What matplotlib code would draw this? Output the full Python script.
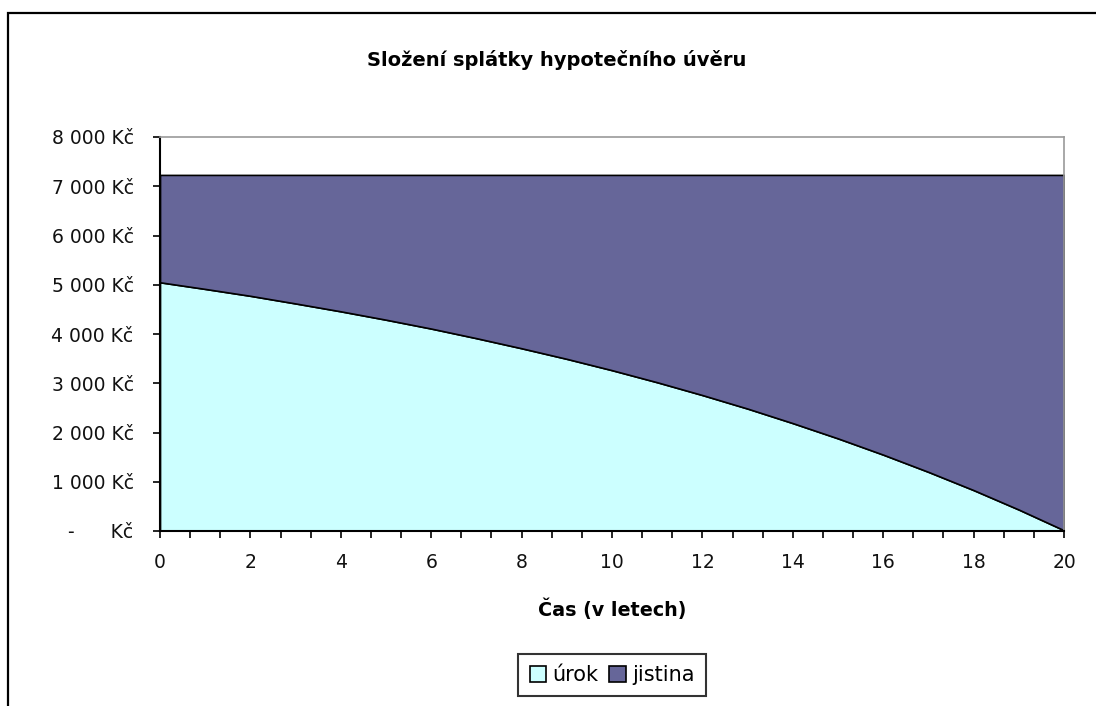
import matplotlib.pyplot as plt
import numpy as np
from matplotlib.patches import Rectangle
from matplotlib.ticker import FuncFormatter, MultipleLocator

plt.rcParams['font.family'] = ['DejaVu Sans']

# roky splaceni a slozeni mesicni splatky (Kc)
roky = [0, 1, 2, 3, 4, 5, 6, 7, 8, 9, 10,
        11, 12, 13, 14, 15, 16, 17, 18, 19, 20]
urok = [5050, 4915, 4775, 4620, 4460, 4290, 4110, 3915, 3710, 3495, 3265,
        3020, 2760, 2485, 2190, 1880, 1550, 1200, 830, 435, 15]
jistina = [2180, 2315, 2455, 2610, 2770, 2940, 3120, 3315, 3520, 3735, 3965,
           4210, 4470, 4745, 5040, 5350, 5680, 6030, 6400, 6795, 7215]
serie = ['úrok', 'jistina']
barvy = ['#CCFFFF', '#666699']

fig = plt.figure(figsize=(10.96, 7.06), dpi=100)
ax = fig.add_axes([160 / 1096, 1 - 531 / 706, 904 / 1096, 394 / 706])

ax.stackplot(roky, urok, jistina, colors=barvy, labels=serie,
             edgecolor='black', linewidth=1.2)

ax.set_xlim(0, 20)
ax.set_ylim(0, 8000)
ax.xaxis.set_major_locator(MultipleLocator(2))
ax.xaxis.set_minor_locator(MultipleLocator(2 / 3))
ax.yaxis.set_major_locator(MultipleLocator(1000))


def kc(v, pos):
    if v == 0:
        return '-      Kč'
    return '{:,.0f} Kč'.format(v).replace(',', ' ')


ax.yaxis.set_major_formatter(FuncFormatter(kc))
ax.tick_params(axis='both', which='both', direction='out', length=5,
               width=1.2, color='black', labelsize=13.5, labelcolor='#111111')
ax.tick_params(axis='x', which='major', pad=11)
ax.tick_params(axis='y', pad=14)

for s in ['top', 'right']:
    ax.spines[s].set_color('#999999')
    ax.spines[s].set_linewidth(1.2)
for s in ['left', 'bottom']:
    ax.spines[s].set_color('black')
    ax.spines[s].set_linewidth(1.5)

ax.set_xlabel('Čas (v letech)', fontsize=13.8, fontweight='bold', labelpad=19)
fig.text(557 / 1096, 1 - 60 / 706, 'Složení splátky hypotečního úvěru',
         ha='center', va='center', fontsize=14, fontweight='bold')

leg = fig.legend(loc='center', bbox_to_anchor=(612 / 1096, 1 - 675 / 706),
                 ncol=2, frameon=True, fancybox=False, fontsize=15,
                 handlelength=0.8, handleheight=0.8, handletextpad=0.3,
                 columnspacing=0.5, borderpad=0.55)
leg.get_frame().set_edgecolor('black')
leg.get_frame().set_linewidth(1.5)

# ramecek celeho grafu
fig.patches.append(Rectangle((8 / 1096, -0.1), 1.2, 1 - 13 / 706 + 0.1,
                             transform=fig.transFigure, fill=False,
                             edgecolor='black', linewidth=1.6))

fig.savefig('out.png', dpi=100)
